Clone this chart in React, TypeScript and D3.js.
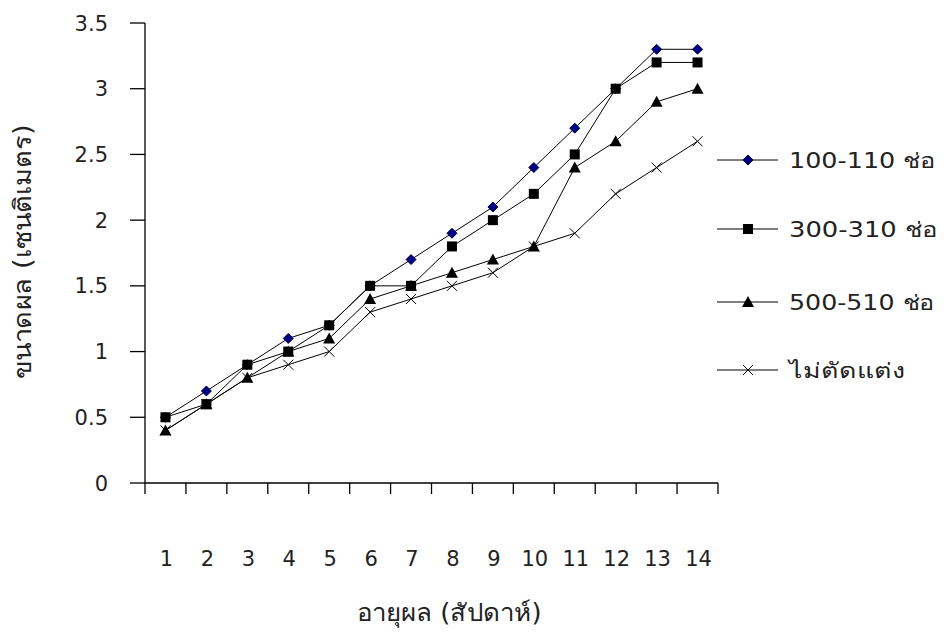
import React from "react";
import * as d3 from "d3";

const weeks = [1, 2, 3, 4, 5, 6, 7, 8, 9, 10, 11, 12, 13, 14];
const seriesNames = ["100-110 ช่อ", "300-310  ช่อ", "500-510 ช่อ", "ไม่ตัดแต่ง"];
const s100 = [0.5, 0.7, 0.9, 1.1, 1.2, 1.5, 1.7, 1.9, 2.1, 2.4, 2.7, 3.0, 3.3, 3.3];
const s300 = [0.5, 0.6, 0.9, 1.0, 1.2, 1.5, 1.5, 1.8, 2.0, 2.2, 2.5, 3.0, 3.2, 3.2];
const s500 = [0.4, 0.6, 0.8, 1.0, 1.1, 1.4, 1.5, 1.6, 1.7, 1.8, 2.4, 2.6, 2.9, 3.0];
const sNone = [0.4, 0.6, 0.8, 0.9, 1.0, 1.3, 1.4, 1.5, 1.6, 1.8, 1.9, 2.2, 2.4, 2.6];
const yTicks = [0, 0.5, 1, 1.5, 2, 2.5, 3, 3.5];
const yTickLabels = ["0", "0.5", "1", "1.5", "2", "2.5", "3", "3.5"];
const yTitle = "ขนาดผล  (เซนติเมตร)";
const xTitle = "อายุผล (สัปดาห์)";

const FONT = "'DejaVu Sans', 'Noto Sans', sans-serif";

type Kind = "diamond" | "square" | "triangle" | "cross";

function Marker({ kind, x, y }: { kind: Kind; x: number; y: number }) {
  if (kind === "diamond") {
    return (
      <path
        d={`M${x},${y - 5}L${x + 5},${y}L${x},${y + 5}L${x - 5},${y}Z`}
        fill="#000080"
        stroke="#000050"
        strokeWidth={1}
      />
    );
  }
  if (kind === "square") {
    return <rect x={x - 5} y={y - 5} width={10} height={10} fill="#000" />;
  }
  if (kind === "triangle") {
    return <path d={`M${x},${y - 6}L${x + 6},${y + 5}L${x - 6},${y + 5}Z`} fill="#000" />;
  }
  return (
    <path
      d={`M${x - 5},${y - 5}L${x + 5},${y + 5}M${x - 5},${y + 5}L${x + 5},${y - 5}`}
      stroke="#000"
      strokeWidth={1}
    />
  );
}

export default function App() {
  const W = 944;
  const H = 632;
  const x = d3.scaleBand<number>().domain(weeks).range([145, 718]).paddingInner(0).paddingOuter(0);
  const y = d3.scaleLinear().domain([0, 3.5]).range([483, 23]);
  const cx = (w: number) => (x(w) as number) + x.bandwidth() / 2;

  const series: { name: string; values: number[]; kind: Kind }[] = [
    { name: seriesNames[0], values: s100, kind: "diamond" },
    { name: seriesNames[2], values: s500, kind: "triangle" },
    { name: seriesNames[3], values: sNone, kind: "cross" },
    { name: seriesNames[1], values: s300, kind: "square" },
  ];
  const legendOrder: Kind[] = ["diamond", "square", "triangle", "cross"];
  const legendY = [160, 229, 302, 370];
  const legendWidths = [147, 149, 146, 116];

  const line = d3
    .line<number>()
    .x((_, i) => cx(weeks[i]))
    .y((v) => y(v));

  const boundaries = [...weeks.map((w) => x(w) as number), x.range()[1]];

  return (
    <svg
      width={W}
      height={H}
      style={{ position: "absolute", left: 0, top: 0, background: "#fff" }}
      fontFamily={FONT}
    >
      <rect width={W} height={H} fill="#fff" />
      {/* y axis */}
      <line x1={145} x2={145} y1={y(3.5)} y2={y(0)} stroke="#000" strokeWidth={1.3} />
      {yTicks.map((t, i) => (
        <g key={t}>
          <line x1={130} x2={145} y1={y(t)} y2={y(t)} stroke="#000" strokeWidth={1.3} />
          <text x={108} y={y(t)} dy="0.36em" textAnchor="end" fontSize={21} fill="#222">
            {yTickLabels[i]}
          </text>
        </g>
      ))}
      {/* x axis */}
      <line x1={145} x2={718} y1={y(0)} y2={y(0)} stroke="#000" strokeWidth={1.3} />
      {boundaries.map((b, i) => (
        <line key={i} x1={b} x2={b} y1={y(0)} y2={y(0) + 11} stroke="#000" strokeWidth={1.3} />
      ))}
      {weeks.map((w) => (
        <text key={w} x={cx(w) + 1} y={566} textAnchor="middle" fontSize={21} fill="#222">
          {w}
        </text>
      ))}
      <text
        x={449}
        y={621}
        textAnchor="middle"
        fontSize={24}
        fill="#222"
        textLength={185}
        lengthAdjust="spacingAndGlyphs"
      >
        {xTitle}
      </text>
      <text
        transform={`translate(23,${252}) rotate(-90)`}
        textAnchor="middle"
        dy="0.35em"
        fontSize={24}
        fill="#222"
        textLength={255}
        lengthAdjust="spacingAndGlyphs"
      >
        {yTitle}
      </text>

      {/* series lines */}
      {series.map((s) => (
        <path key={s.name + "l"} d={line(s.values) || ""} fill="none" stroke="#000" strokeWidth={1} />
      ))}
      {/* series markers */}
      {series.map((s) => (
        <g key={s.name + "m"}>
          {s.values.map((v, i) => (
            <Marker key={i} kind={s.kind} x={cx(weeks[i])} y={y(v)} />
          ))}
        </g>
      ))}

      {/* legend */}
      {legendOrder.map((k, i) => (
        <g key={k}>
          <line x1={717} x2={778} y1={legendY[i]} y2={legendY[i]} stroke="#000" strokeWidth={1} />
          <Marker kind={k} x={748} y={legendY[i]} />
          <text
            x={789}
            y={legendY[i]}
            dy="0.36em"
            fontSize={21}
            fill="#222"
            textLength={legendWidths[i]}
            lengthAdjust="spacingAndGlyphs"
          >
            {seriesNames[i]}
          </text>
        </g>
      ))}
    </svg>
  );
}
